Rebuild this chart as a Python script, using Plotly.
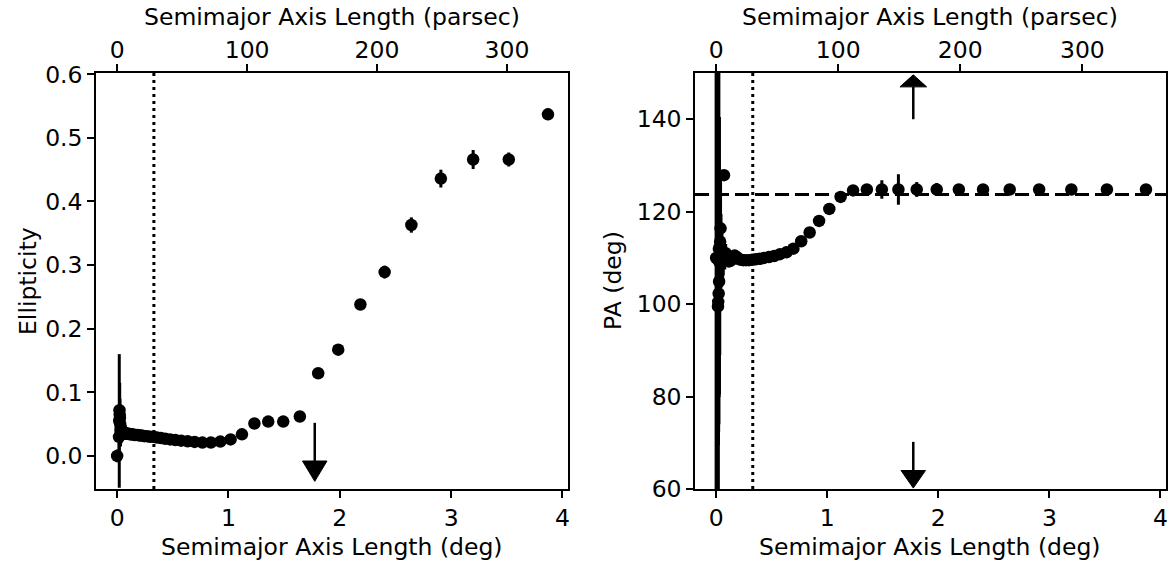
import plotly.graph_objects as go

# ---------------- data ----------------
# Ellipticity panel
ell_x = [0.0, 0.017, 0.019, 0.021, 0.023, 0.025, 0.027, 0.030, 0.033, 0.036, 0.040, 0.044,
         0.048, 0.053, 0.059, 0.064, 0.071, 0.078, 0.086, 0.094, 0.104, 0.114, 0.125, 0.138,
         0.152, 0.167, 0.184, 0.202, 0.222, 0.244, 0.269, 0.295, 0.325, 0.357, 0.393, 0.432,
         0.476, 0.523, 0.575, 0.633, 0.696, 0.766, 0.842, 0.927, 1.019, 1.121, 1.233, 1.357,
         1.492, 1.641, 1.806, 1.986, 2.185, 2.403, 2.643, 2.908, 3.198, 3.518, 3.870]
ell_y = [0.000, 0.030, 0.055, 0.072, 0.065, 0.060, 0.050, 0.040, 0.045, 0.035, 0.040, 0.036,
         0.038, 0.037, 0.037, 0.036, 0.036, 0.035, 0.035, 0.035, 0.035, 0.034, 0.034, 0.034,
         0.033, 0.033, 0.033, 0.032, 0.032, 0.031, 0.031, 0.030, 0.030, 0.029, 0.028, 0.027,
         0.026, 0.025, 0.024, 0.023, 0.022, 0.021, 0.021, 0.0225, 0.026, 0.034, 0.051, 0.054,
         0.054, 0.062, 0.130, 0.167, 0.238, 0.289, 0.363, 0.436, 0.466, 0.466, 0.537]
ell_err = [0.010, 0.030, 0.105, 0.040, 0.050, 0.030, 0.030, 0.025, 0.020, 0.015, 0.015, 0.012,
           0.012, 0.010, 0.010, 0.010, 0.009, 0.008, 0.008, 0.007, 0.007, 0.006, 0.006, 0.005,
           0.005, 0.005, 0.004, 0.004, 0.004, 0.004, 0.003, 0.003, 0.003, 0.003, 0.003, 0.003,
           0.003, 0.003, 0.003, 0.003, 0.003, 0.003, 0.003, 0.003, 0.003, 0.003, 0.003, 0.003,
           0.003, 0.004, 0.004, 0.006, 0.006, 0.010, 0.012, 0.014, 0.015, 0.011, 0.009]

# Position angle panel
pa_x = ell_x
pa_y = [110.0, 99.5, 100.5, 109.5, 102.3, 112.0, 104.9, 110.5, 109.0, 113.5, 116.4, 111.5,
        109.8, 110.5, 109.6, 109.2, 127.9, 110.0, 111.0, 110.2, 109.8, 109.4, 109.3, 109.6,
        110.2, 110.5, 110.2, 109.8, 109.6, 109.5, 109.5, 109.5, 109.6, 109.7, 109.8, 110.0,
        110.2, 110.4, 110.8, 111.2, 112.0, 113.6, 115.5, 118.0, 120.6, 123.2, 124.6, 124.8,
        124.8, 124.8, 124.8, 124.8, 124.8, 124.8, 124.8, 124.8, 124.8, 124.8, 124.8]
pa_err = [70.0, 55.0, 45.0, 40.0, 30.0, 38.0, 25.0, 30.0, 20.0, 15.0, 12.0, 8.0,
          6.0, 5.0, 4.0, 3.0, 1.0, 2.5, 2.0, 2.0, 1.5, 1.5, 1.2, 1.0,
          1.0, 1.0, 0.8, 0.8, 0.7, 0.7, 0.6, 0.6, 0.6, 0.5, 0.5, 0.5,
          0.5, 0.5, 0.5, 0.5, 0.5, 0.5, 0.5, 0.5, 0.5, 0.5, 0.6, 0.6,
          2.0, 3.3, 1.6, 1.4, 0.7, 0.6, 0.6, 0.6, 0.6, 0.6, 0.6]

inner_radius_deg = 0.33       # dotted vertical line
pa_mean = 123.7               # dashed horizontal line
arrow_x = 1.775               # arrow position (deg)

x_ticks = [0, 1, 2, 3, 4]
pc_ticks = [0, 100, 200, 300]
ell_ticks = [0.0, 0.1, 0.2, 0.3, 0.4, 0.5, 0.6]
ell_tick_text = ["0.0", "0.1", "0.2", "0.3", "0.4", "0.5", "0.6"]
pa_ticks = [60, 80, 100, 120, 140]

x_label = "Semimajor Axis Length (deg)"
pc_label = "Semimajor Axis Length (parsec)"
ell_label = "Ellipticity"
pa_label = "PA (deg)"

x_range = [-0.19, 4.05]
pc_range_left = [-16.3, 347.0]
pc_range_right = [-17.3, 368.5]
ell_range = [-0.052, 0.602]
pa_range = [60, 150]

FONT = "DejaVu Sans"
FS = 23.5

W, H = 1176, 565

fig = go.Figure()

marker = dict(color="black", size=12.5)
errstyle = dict(type="data", thickness=3, width=0, color="black")

fig.add_trace(go.Scatter(x=ell_x, y=ell_y, mode="markers", marker=marker,
                         error_y=dict(array=ell_err, **errstyle),
                         xaxis="x", yaxis="y", showlegend=False))
fig.add_trace(go.Scatter(x=pa_x, y=pa_y, mode="markers", marker=marker,
                         error_y=dict(array=pa_err, **errstyle),
                         xaxis="x2", yaxis="y2", showlegend=False))
# empty traces to anchor top axes
fig.add_trace(go.Scatter(x=[None], y=[None], xaxis="x3", yaxis="y", showlegend=False, hoverinfo="skip"))
fig.add_trace(go.Scatter(x=[None], y=[None], xaxis="x4", yaxis="y2", showlegend=False, hoverinfo="skip"))

ydom = [1 - 489 / H, 1 - 73 / H]
dom1 = [96 / W, 568 / W]
dom2 = [695 / W, 1166 / W]

axcommon = dict(showgrid=False, zeroline=False, showline=True, linecolor="black", linewidth=1.5,
                ticks="outside", ticklen=7, tickwidth=1.5, tickcolor="black", automargin=False,
                tickfont=dict(family=FONT, size=FS, color="black"))
titlefont = dict(family=FONT, size=FS, color="black")

fig.update_layout(
    width=W, height=H, margin=dict(l=0, r=0, t=0, b=0),
    plot_bgcolor="white", paper_bgcolor="white",
    xaxis=dict(domain=dom1, anchor="y", range=x_range, tickvals=x_ticks, mirror=True, **axcommon),
    yaxis=dict(domain=ydom, anchor="x", range=ell_range, tickvals=ell_ticks, ticktext=ell_tick_text,
               mirror=True, **axcommon),
    xaxis2=dict(domain=dom2, anchor="y2", range=x_range, tickvals=x_ticks, mirror=True, **axcommon),
    yaxis2=dict(domain=ydom, anchor="x2", range=pa_range, tickvals=pa_ticks, mirror=True, **axcommon),
    xaxis3=dict(overlaying="x", side="top", anchor="y", range=pc_range_left, tickvals=pc_ticks,
                ticklabelstandoff=-3, **axcommon),
    xaxis4=dict(overlaying="x2", side="top", anchor="y2", range=pc_range_right, tickvals=pc_ticks,
                ticklabelstandoff=-3, **axcommon),
)

# axis titles as annotations (page-pixel placement)
ann = []
for dom in (dom1, dom2):
    cx = (dom[0] + dom[1]) / 2
    ann.append(dict(text=x_label, x=cx, y=1 - 547 / H, xref="paper", yref="paper",
                    xanchor="center", yanchor="middle", showarrow=False, font=titlefont))
    ann.append(dict(text=pc_label, x=cx, y=1 - 17 / H, xref="paper", yref="paper",
                    xanchor="center", yanchor="middle", showarrow=False, font=titlefont))
cy = (ydom[0] + ydom[1]) / 2
ann.append(dict(text=ell_label, x=28 / W, y=cy, xref="paper", yref="paper", textangle=-90,
                xanchor="center", yanchor="middle", showarrow=False, font=titlefont))
ann.append(dict(text=pa_label, x=613 / W, y=cy, xref="paper", yref="paper", textangle=-90,
                xanchor="center", yanchor="middle", showarrow=False, font=titlefont))
fig.update_layout(annotations=ann)

shapes = []
# dotted vertical lines
for xr, yr in (("x", "y"), ("x2", "y2")):
    shapes.append(dict(type="line", xref=xr, yref=yr + " domain", x0=inner_radius_deg, x1=inner_radius_deg,
                       y0=0, y1=1, line=dict(color="black", width=3, dash="3px,4px")))
# dashed horizontal line
shapes.append(dict(type="line", xref="x2 domain", yref="y2", x0=0, x1=1, y0=pa_mean, y1=pa_mean,
                   line=dict(color="black", width=3, dash="14px,6px")))

def arrow(xr, yr, x, y_start, y_base, y_tip, half_w):
    out = [dict(type="line", xref=xr, yref=yr, x0=x, x1=x, y0=y_start, y1=y_base,
                line=dict(color="black", width=2.5))]
    path = f"M {x - half_w},{y_base} L {x + half_w},{y_base} L {x},{y_tip} Z"
    out.append(dict(type="path", xref=xr, yref=yr, path=path, fillcolor="black",
                    line=dict(color="black", width=1)))
    return out

shapes += arrow("x", "y", arrow_x, 0.052, -0.008, -0.040, 0.11)
shapes += arrow("x2", "y2", arrow_x, 140.0, 147.0, 149.6, 0.12)
shapes += arrow("x2", "y2", arrow_x, 70.2, 64.0, 60.2, 0.11)

fig.update_layout(shapes=shapes)

# remove the default 8px body margin so the figure fills the window exactly
fig.write_html("out.html", config={"displayModeBar": False},
               post_script="document.body.style.margin='0px';document.body.style.overflow='hidden';")
